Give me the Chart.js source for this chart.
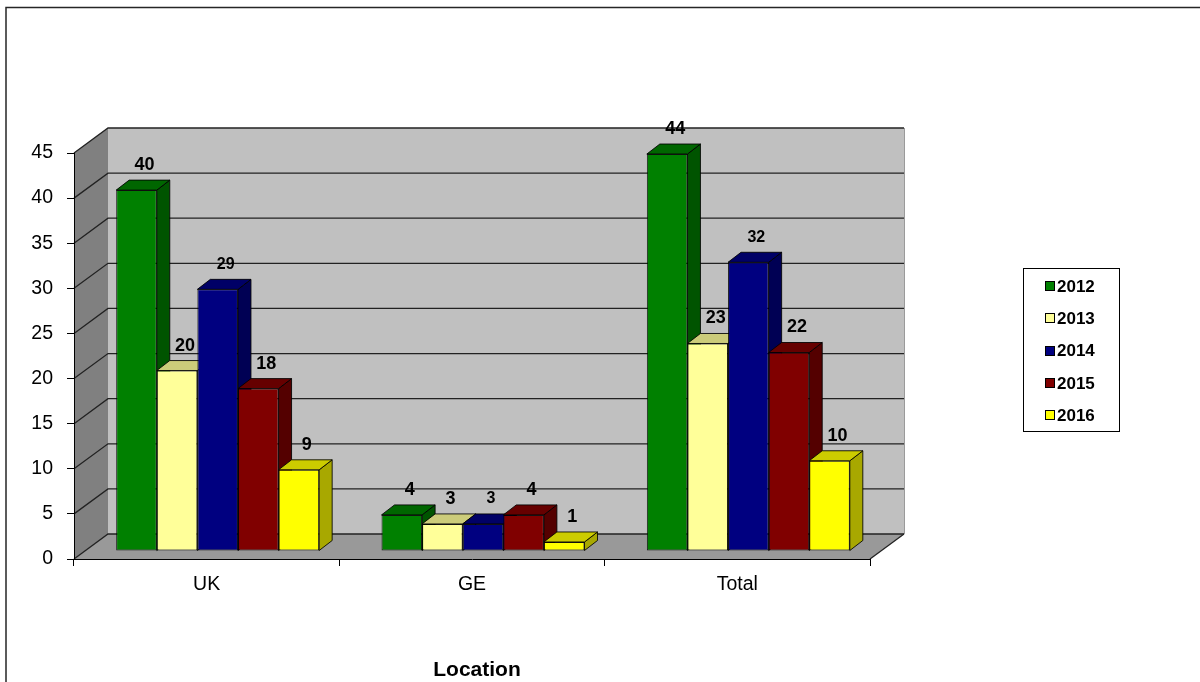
<!DOCTYPE html>
<html>
<head>
<meta charset="utf-8">
<title>Location by year</title>
<script src="https://cdn.jsdelivr.net/npm/chart.js@4.4.1/dist/chart.umd.min.js"></script>
<style>
  html, body { margin: 0; padding: 0; background: #ffffff; }
  #wrap { width: 1200px; height: 682px; position: relative; }
</style>
</head>
<body>
<div id="wrap"><canvas id="chart" width="1200" height="682"></canvas></div>
<script>
// ---- data ----
const locations = ['UK', 'GE', 'Total'];
const years = ['2012', '2013', '2014', '2015', '2016'];
const v2012 = [40, 4, 44];
const v2013 = [20, 3, 23];
const v2014 = [29, 3, 32];
const v2015 = [18, 4, 22];
const v2016 = [9, 1, 10];
const yMin = 0, yMax = 45, yStep = 5;
const axisTitle = 'Location';

// ---- styling ----
const seriesColors = ['#008000', '#FFFF99', '#000080', '#800000', '#FFFF00'];
const labelFontPx = [18, 18, 16, 18, 18];
const FONT = '"Liberation Sans", Arial, Helvetica, sans-serif';

// oblique projection of the 3D box: offset of the back plane and of the bars
const WALL_DX = 34, WALL_DY = -25;   // front plane -> back wall
const BAR_DX = 11, BAR_DY = -8;      // front plane -> bar front faces
const DEPTH_DX = 13, DEPTH_DY = -10; // bar front face -> bar back face

function shade(hex, f) {
  const n = parseInt(hex.slice(1), 16);
  const r = Math.round(((n >> 16) & 255) * f);
  const g = Math.round(((n >> 8) & 255) * f);
  const b = Math.round((n & 255) * f);
  return `rgb(${r},${g},${b})`;
}

function poly(ctx, pts, fill, stroke, lw) {
  ctx.beginPath();
  ctx.moveTo(pts[0][0], pts[0][1]);
  for (let i = 1; i < pts.length; i++) ctx.lineTo(pts[i][0], pts[i][1]);
  ctx.closePath();
  if (fill) { ctx.fillStyle = fill; ctx.fill(); }
  if (stroke) { ctx.strokeStyle = stroke; ctx.lineWidth = lw || 1; ctx.stroke(); }
}

const seriesValues = [v2012, v2013, v2014, v2015, v2016];

const box3d = {
  id: 'box3d',
  // frame, walls, floor and gridlines behind everything
  beforeDraw(chart) {
    const { ctx, chartArea: a, scales: { y } } = chart;
    const L = a.left, R = a.right, T = a.top, B = a.bottom;
    ctx.save();
    // outer frame
    ctx.strokeStyle = '#262626';
    ctx.lineWidth = 1.5;
    ctx.beginPath();
    ctx.moveTo(6, 682); ctx.lineTo(6, 7.5); ctx.lineTo(1200, 7.5);
    ctx.stroke();

    // back wall
    ctx.fillStyle = '#c0c0c0';
    ctx.fillRect(L + WALL_DX, T + WALL_DY, R - L, B - T);
    // left side wall
    poly(ctx, [[L, T], [L + WALL_DX, T + WALL_DY], [L + WALL_DX, B + WALL_DY], [L, B]], '#808080');
    // floor
    poly(ctx, [[L, B], [R, B], [R + WALL_DX, B + WALL_DY], [L + WALL_DX, B + WALL_DY]], '#999999');

    // back wall right edge
    ctx.strokeStyle = '#9a9a9a';
    ctx.lineWidth = 1;
    ctx.beginPath();
    ctx.moveTo(R + WALL_DX + 0.5, T + WALL_DY);
    ctx.lineTo(R + WALL_DX + 0.5, B + WALL_DY);
    ctx.stroke();

    // gridlines across the side wall and the back wall
    ctx.strokeStyle = '#222222';
    ctx.lineWidth = 1.3;
    for (let v = yMin; v <= yMax; v += yStep) {
      const py = y.getPixelForValue(v);
      ctx.beginPath();
      ctx.moveTo(L, py);
      ctx.lineTo(L + WALL_DX, py + WALL_DY);
      ctx.lineTo(R + WALL_DX, py + WALL_DY);
      ctx.stroke();
    }
    // floor right edge
    ctx.beginPath();
    ctx.moveTo(R, B);
    ctx.lineTo(R + WALL_DX, B + WALL_DY);
    ctx.stroke();
    ctx.restore();
  },

  // side and top faces, left to right inside each category
  beforeDatasetsDraw(chart) {
    const ctx = chart.ctx;
    ctx.save();
    ctx.translate(BAR_DX, BAR_DY);
    ctx.lineJoin = 'round';
    for (let c = 0; c < locations.length; c++) {
      chart.data.datasets.forEach((ds, di) => {
        const meta = chart.getDatasetMeta(di);
        const el = meta.data[c];
        if (!el) return;
        const { x, y, base, width } = el.getProps(['x', 'y', 'base', 'width'], true);
        const l = x - width / 2, r = x + width / 2;
        const col = seriesColors[di];
        poly(ctx, [[r, y], [r + DEPTH_DX, y + DEPTH_DY], [r + DEPTH_DX, base + DEPTH_DY], [r, base]],
          shade(col, 0.66), 'rgba(0,0,0,0.85)', 1);
        poly(ctx, [[l, y], [r, y], [r + DEPTH_DX, y + DEPTH_DY], [l + DEPTH_DX, y + DEPTH_DY]],
          shade(col, 0.8), 'rgba(0,0,0,0.85)', 1);
      });
    }
    ctx.restore();
  },

  // front faces are drawn by the bar controller in the shifted plane
  beforeDatasetDraw(chart) {
    chart.ctx.save();
    chart.ctx.translate(BAR_DX, BAR_DY);
  },
  afterDatasetDraw(chart) {
    chart.ctx.restore();
  },

  afterDatasetsDraw(chart) {
    const ctx = chart.ctx;
    ctx.save();
    ctx.fillStyle = '#000000';
    ctx.textAlign = 'center';
    ctx.textBaseline = 'middle';
    // value labels above each bar
    chart.data.datasets.forEach((ds, di) => {
      const meta = chart.getDatasetMeta(di);
      ctx.font = `bold ${labelFontPx[di]}px ${FONT}`;
      meta.data.forEach((el, i) => {
        const { x, y } = el.getProps(['x', 'y'], true);
        ctx.fillText(String(ds.data[i]), x + BAR_DX + 8, y + BAR_DY + DEPTH_DY - 15);
      });
    });

    // axis title
    ctx.font = `bold 21px ${FONT}`;
    ctx.fillText(axisTitle, 477, 670);

    // legend
    ctx.strokeStyle = '#000000';
    ctx.lineWidth = 1;
    ctx.strokeRect(1023.5, 268.5, 96, 163);
    ctx.font = `bold 17px ${FONT}`;
    ctx.textAlign = 'left';
    chart.data.datasets.forEach((ds, di) => {
      const cy = 286 + di * 32.3;
      ctx.fillStyle = seriesColors[di];
      ctx.fillRect(1045.5, Math.round(cy) - 4.5, 9, 9);
      ctx.strokeStyle = '#000000';
      ctx.strokeRect(1045.5, Math.round(cy) - 4.5, 9, 9);
      ctx.fillStyle = '#000000';
      ctx.fillText(ds.label, 1057, cy + 1);
    });
    ctx.restore();
  }
};

new Chart(document.getElementById('chart'), {
  type: 'bar',
  data: {
    labels: locations,
    datasets: years.map((yr, i) => ({
      label: yr,
      data: seriesValues[i],
      backgroundColor: seriesColors[i],
      borderColor: 'rgba(0,0,0,0.85)',
      borderWidth: 1,
      borderSkipped: false,
      categoryPercentage: 0.765,
      barPercentage: 1.0,
      clip: false
    }))
  },
  options: {
    responsive: false,
    devicePixelRatio: 1,
    animation: false,
    layout: { padding: { left: 0, top: 153, right: 330, bottom: 83 } },
    plugins: {
      legend: { display: false },
      tooltip: { enabled: false },
      title: { display: false }
    },
    scales: {
      x: {
        afterFit(s) { s.height = 40; },
        grid: { drawOnChartArea: false, drawTicks: true, tickLength: 7, color: '#000000', offset: true },
        border: { display: true, color: '#000000', width: 1 },
        ticks: { color: '#000000', font: { family: FONT, size: 19.5 }, padding: 7 }
      },
      y: {
        min: yMin,
        max: yMax,
        afterFit(s) { s.width = 74; },
        grid: { drawOnChartArea: false, drawTicks: true, tickLength: 7, color: '#000000' },
        border: { display: true, color: '#000000', width: 1 },
        ticks: { stepSize: yStep, color: '#000000', font: { family: FONT, size: 19.5 }, padding: 14 }
      }
    }
  },
  plugins: [box3d]
});
</script>
</body>
</html>
